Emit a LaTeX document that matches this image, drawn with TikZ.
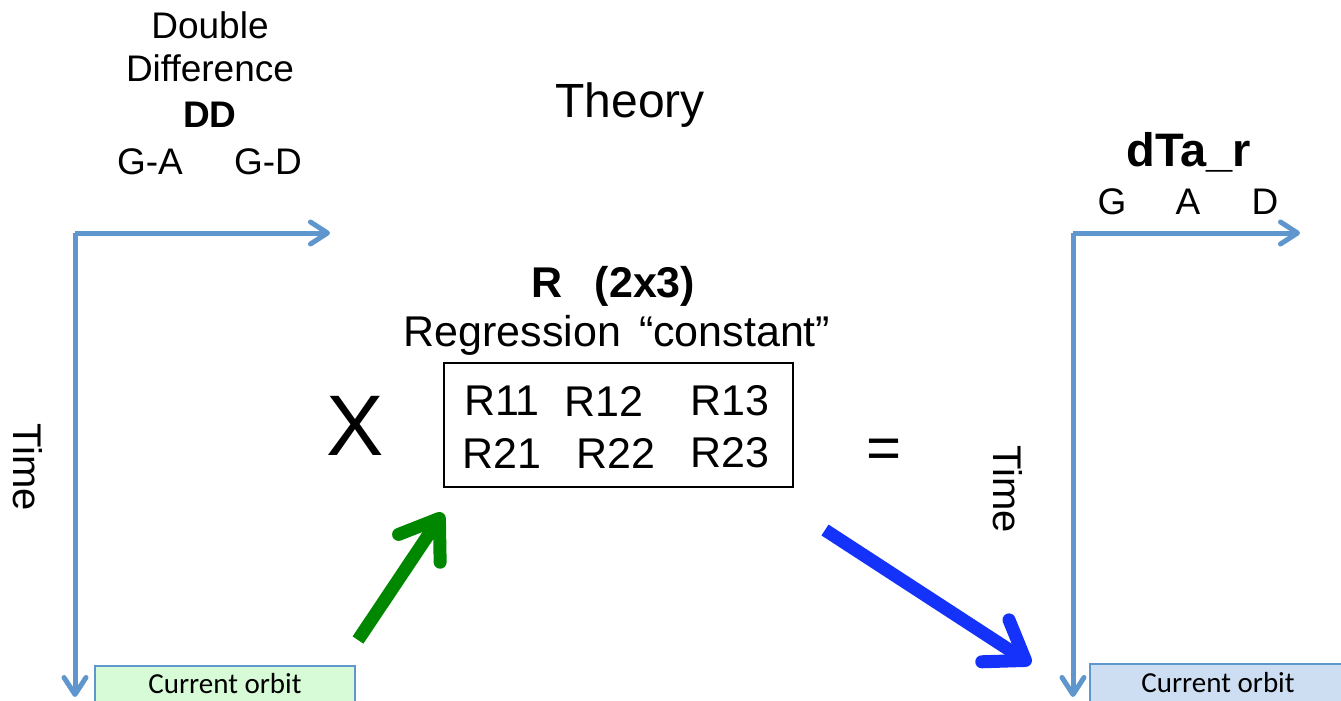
\documentclass[tikz,border=0pt]{standalone}
\usepackage{fontspec}
\setmainfont{Liberation Sans}
\newfontfamily\calfont{Carlito}
\usetikzlibrary{arrows.meta}
\definecolor{axisblue}{RGB}{95,150,205}
\definecolor{darkgreen}{RGB}{0,135,0}
\definecolor{brightblue}{RGB}{20,50,250}
\definecolor{lightgreen}{RGB}{215,250,215}
\definecolor{lightblue}{RGB}{205,222,242}
\tikzset{
  axis/.style={draw=axisblue, line width=5pt, -{Straight Barb[round,length=17pt,width=22pt]}},
  bigarrow/.style={line width=13pt, -{Straight Barb[round,length=36pt,width=50pt]}},
  txt/.style={font=\fontsize{37}{40}\selectfont, inner sep=0pt},
  mtxt/.style={font=\fontsize{43}{46}\selectfont, inner sep=0pt},
  btxt/.style={font=\fontsize{43}{46}\selectfont\bfseries, inner sep=0pt},
  orbit/.style={draw=axisblue, line width=1.5pt, font=\calfont\fontsize{29}{30}\selectfont, inner sep=0pt},
}
\begin{document}
\begin{tikzpicture}[x=1pt,y=-1pt]
\useasboundingbox (0,0) rectangle (1341,701);
% left axes
\coordinate (lc) at (75,233);
\coordinate (lx) at (330,233);
\coordinate (ly) at (75,697);
\draw[axis] (lc) -- (lx);
\draw[axis] (lc) -- (ly);
% right axes
\coordinate (rc) at (1073,233);
\coordinate (rx) at (1300,233);
\coordinate (ry) at (1073,697);
\draw[axis] (rc) -- (rx);
\draw[axis] (rc) -- (ry);
% top-left labels
\node[txt] (dbl) at (210,25) {Double};
\node[txt] (diff) at (210,68) {Difference};
\node[txt, font=\fontsize{37}{40}\selectfont\bfseries] (dd) at (210,115) {DD};
\node[txt] (ga) at (150,162) {G-A};
\node[txt] (gd) at (268,162) {G-D};
% theory
\node[txt, font=\fontsize{48}{50}\selectfont] (theory) at (630,105) {Theory};
% right labels
\node[btxt, font=\fontsize{47}{50}\selectfont\bfseries] (dta) at (1189,152) {dTa\_r};
\node[txt] (g) at (1112,202) {G};
\node[txt] (a) at (1188,202) {A};
\node[txt] (d) at (1265,202) {D};
% Time labels
\node[txt, font=\fontsize{40}{42}\selectfont, rotate=-90] (time1) at (28,467) {Time};
\node[txt, font=\fontsize{40}{42}\selectfont, rotate=-90] (time2) at (1008,489) {Time};
% R matrix
\node[btxt, anchor=base] (rtitle) at (547,297) {R};
\node[btxt, anchor=base] (rdim) at (645,297) {(2x3)};
\node[mtxt] (reg) at (617,335) {Regression\hspace{18pt}“constant”};
\node[draw=black, line width=1.5pt, minimum width=349pt, minimum height=124pt, inner sep=0pt] (mat) at (618.5,425) {};
\node[mtxt] (r11) at (502,401) {R11};
\node[mtxt] (r12) at (604,401) {R12};
\node[mtxt] (r13) at (730,401) {R13};
\node[mtxt] (r21) at (502,453) {R21};
\node[mtxt] (r22) at (616,453) {R22};
\node[mtxt] (r23) at (730,453) {R23};
\node[txt, font=\fontsize{86}{90}\selectfont] (x) at (355,426) {X};
\node[txt, font=\fontsize{60}{64}\selectfont] (eq) at (884,454) {=};
% orbit boxes
\node[orbit, fill=lightgreen, minimum width=260pt, minimum height=36pt] (orbL) at (225,684) {Current orbit};
\node[orbit, fill=lightblue, minimum width=256pt, minimum height=38pt] (orbR) at (1218,683) {Current orbit};
% big arrows
\coordinate (gs) at (358,640);
\coordinate (ge) at (443,513);
\draw[bigarrow, darkgreen] (gs) -- (ge);
\coordinate (bs) at (825,530);
\coordinate (be) at (1031,664);
\draw[bigarrow, brightblue] (bs) -- (be);
\end{tikzpicture}
\end{document}
